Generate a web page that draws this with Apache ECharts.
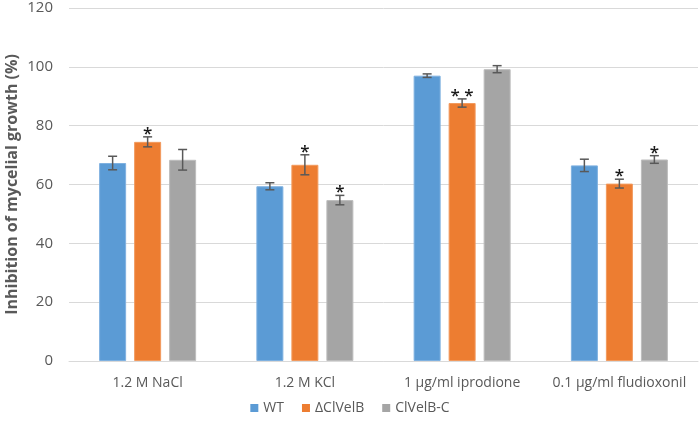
<!DOCTYPE html>
<html><head><meta charset="utf-8">
<script src="https://cdn.jsdelivr.net/npm/echarts@6/dist/echarts.min.js"></script>
<style>html,body{margin:0;padding:0;background:#fff}#c{width:700px;height:429px}</style>
</head><body><div id="c"></div>
<script>
var categories = ['1.2 M NaCl', '1.2 M KCl', '1 μg/ml iprodione', '0.1 μg/ml fludioxonil'];
var seriesNames = ['WT', 'ΔClVelB', 'ClVelB-C'];
var wtValues = [67.3, 59.4, 97.0, 66.5];
var wtErrors = [2.3, 1.2, 0.6, 2.1];
var wtMarks = ['', '', '', ''];
var delValues = [74.5, 66.7, 87.7, 60.3];
var delErrors = [1.7, 3.4, 1.4, 1.5];
var delMarks = ['*', '*', '* *', '*'];
var compValues = [68.4, 54.7, 99.2, 68.5];
var compErrors = [3.5, 1.6, 1.2, 1.3];
var compMarks = ['', '*', '', '*'];
var yTicks = [0, 20, 40, 60, 80, 100, 120];

var colors = ['#5b9bd5', '#ed7d31', '#a5a5a5'];
var borders = ['#7fb1e0', '#f29a5e', '#bdbdbd'];
var FONT = "'Open Sans', 'Noto Sans', sans-serif";
var BAR_W = 27, GAP = 8;
var allValues = [wtValues, delValues, compValues];
var allErrors = [wtErrors, delErrors, compErrors];
var allMarks = [wtMarks, delMarks, compMarks];

var series = [];
for (var s = 0; s < 3; s++) {
  series.push({
    name: seriesNames[s], type: 'bar', data: allValues[s],
    barWidth: BAR_W, barGap: (GAP / BAR_W * 100) + '%',
    itemStyle: { color: colors[s], borderColor: borders[s], borderWidth: 1 },
    z: 2
  });
}
for (var s2 = 0; s2 < 3; s2++) {
  (function (si) {
    var data = allValues[si].map(function (v, i) { return [i, v, allErrors[si][i], allMarks[si][i]]; });
    series.push({
      name: seriesNames[si], type: 'custom', data: data, z: 5,
      encode: { x: 0, y: 1 }, silent: true,
      renderItem: function (params, api) {
        var i = api.value(0), v = api.value(1), e = api.value(2);
        var mark = data[params.dataIndex][3];
        var off = (si - 1) * (BAR_W + GAP);
        var top = api.coord([i, v + e]);
        var bot = api.coord([i, v - e]);
        var x = top[0] + off;
        var cap = 4.5;
        var st = { stroke: '#595959', lineWidth: 1.5 };
        var children = [
          { type: 'line', shape: { x1: x, y1: top[1], x2: x, y2: bot[1] }, style: st },
          { type: 'line', shape: { x1: x - cap, y1: top[1], x2: x + cap, y2: top[1] }, style: st },
          { type: 'line', shape: { x1: x - cap, y1: bot[1], x2: x + cap, y2: bot[1] }, style: st }
        ];
        if (mark) {
          children.push({ type: 'text', style: { text: mark, x: x, y: top[1] - 3, align: 'center', verticalAlign: 'middle', fill: '#1a1a1a', font: '600 17px ' + FONT } });
        }
        return { type: 'group', children: children };
      }
    });
  })(s2);
}

var chart = echarts.init(document.getElementById('c'), null, { renderer: 'canvas' });
chart.setOption({
  animation: false,
  color: colors,
  grid: { left: 69, right: 2, top: 8, bottom: 68, outerBoundsMode: 'none', containLabel: false },
  legend: {
    data: seriesNames.map(function (n, k) { return { name: n, itemStyle: { color: colors[k], borderWidth: 0 } }; }),
    bottom: 9, left: 'center', icon: 'rect', itemWidth: 8, itemHeight: 8, itemGap: 18,
    textStyle: { color: '#595959', fontSize: 14, fontFamily: FONT }
  },
  xAxis: {
    type: 'category', data: categories,
    axisLine: { lineStyle: { color: '#d9d9d9', width: 1 } },
    axisTick: { show: false },
    axisLabel: { color: '#595959', fontSize: 14, fontFamily: FONT, margin: 15, interval: 0 }
  },
  yAxis: {
    type: 'value', min: yTicks[0], max: yTicks[yTicks.length - 1], interval: 20,
    name: 'Inhibition of mycelial growth (%)', nameLocation: 'middle', nameGap: 49, nameMoveOverlap: false,
    nameTextStyle: { color: '#595959', fontSize: 16, fontWeight: 'bold', fontFamily: FONT },
    axisLine: { show: false }, axisTick: { show: false },
    axisLabel: { color: '#595959', fontSize: 15, fontFamily: FONT, margin: 16 },
    splitLine: { lineStyle: { color: '#d9d9d9', width: 1 } }
  },
  series: series
});
</script></body></html>
